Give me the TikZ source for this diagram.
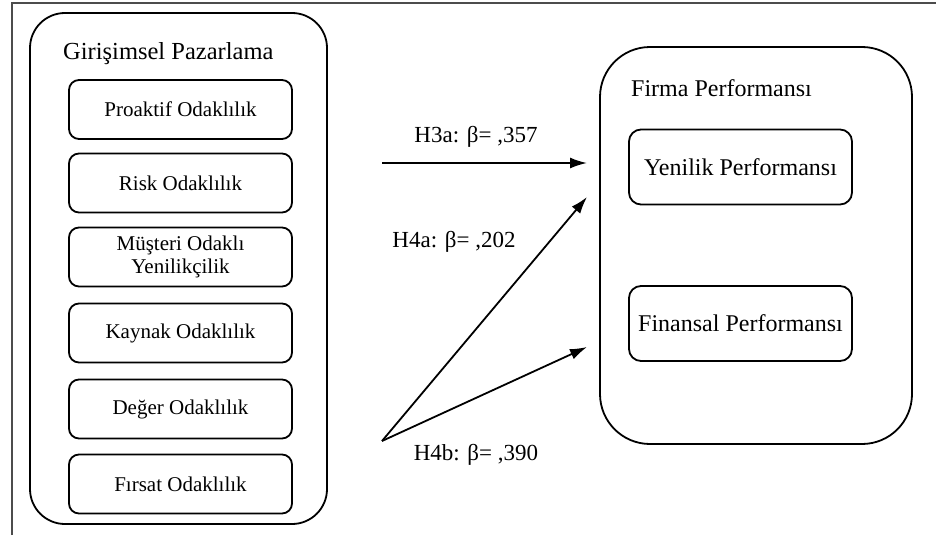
\documentclass[tikz,border=0pt]{standalone}
\usepackage{fontspec}
\setmainfont{Liberation Serif}
\usetikzlibrary{arrows.meta}

\tikzset{
    grupkutu/.style={draw, line width=1.8pt, rounded corners=#1, inner sep=0pt},
    altkutu/.style={draw, line width=1.8pt, rounded corners=10pt, minimum width=223pt, minimum height=59pt, align=center, font=\fontsize{21}{23}\selectfont, inner sep=0pt},
    sagkutu/.style={draw, line width=1.8pt, rounded corners=12pt, minimum width=223pt, minimum height=75pt, font=\fontsize{24}{27}\selectfont, inner sep=0pt},
    etiket/.style={font=\fontsize{23}{26}\selectfont, inner sep=0pt},
    baslik/.style={anchor=west, font=\fontsize{24.5}{27}\selectfont, inner sep=0pt},
    ok/.style={line width=1.8pt, -{Latex[length=17pt,width=11pt]}}
}

\begin{document}
\begin{tikzpicture}[x=1pt, y=-1pt]
                    \useasboundingbox (0, 0) rectangle (936, 535);

                    % cerceve
                    \draw[line width=1.2pt, black!70] (12, 535) -- (12, 3) -- (936, 3);

                    % sol grup
                    \node[grupkutu=35pt, minimum width=297pt, minimum height=511pt] (GP) at (178.5, 268.5) {};
                    \node[baslik] (GPbaslik) at (63, 54) {Girişimsel Pazarlama};

                    \node[altkutu] (B1) at (180.5, 109.5) {Proaktif Odaklılık};
                    \node[altkutu] (B2) at (180.5, 183) {Risk Odaklılık};
                    \node[altkutu] (B3) at (180.5, 257) {Müşteri Odaklı\\Yenilikçilik};
                    \node[altkutu] (B4) at (180.5, 333) {Kaynak Odaklılık};
                    \node[altkutu] (B5) at (180.5, 409) {Değer Odaklılık};
                    \node[altkutu] (B6) at (180.5, 484) {Fırsat Odaklılık};

                    % sag grup
                    \node[grupkutu=50pt, minimum width=312pt, minimum height=397pt] (FP) at (756, 245.5) {};
                    \node[baslik, font=\fontsize{24}{27}\selectfont] (FPbaslik) at (631, 88) {Firma Performansı};

                    \node[sagkutu] (Y) at (740.5, 167) {Yenilik Performansı};
                    \node[sagkutu] (F) at (740.5, 323.5) {Finansal Performansı};

                    % oklar
                    \coordinate (A0) at (382, 163);
                    \coordinate (A1) at (587, 163);
                    \coordinate (S0) at (382, 441);
                    \coordinate (S1) at (587, 197);
                    \coordinate (S2) at (587, 347);

                    \draw[ok] (A0) -- (A1);
                    \draw[ok] (S0) -- (S1);
                    \draw[ok] (S0) -- (S2);

                    \node[etiket] (L1) at (476, 137) {H3a: β= ,357};
                    \node[etiket] (L2) at (454, 242) {H4a: β= ,202};
                    \node[etiket] (L3) at (476, 455) {H4b: β= ,390};

                \end{tikzpicture}
\end{document}
